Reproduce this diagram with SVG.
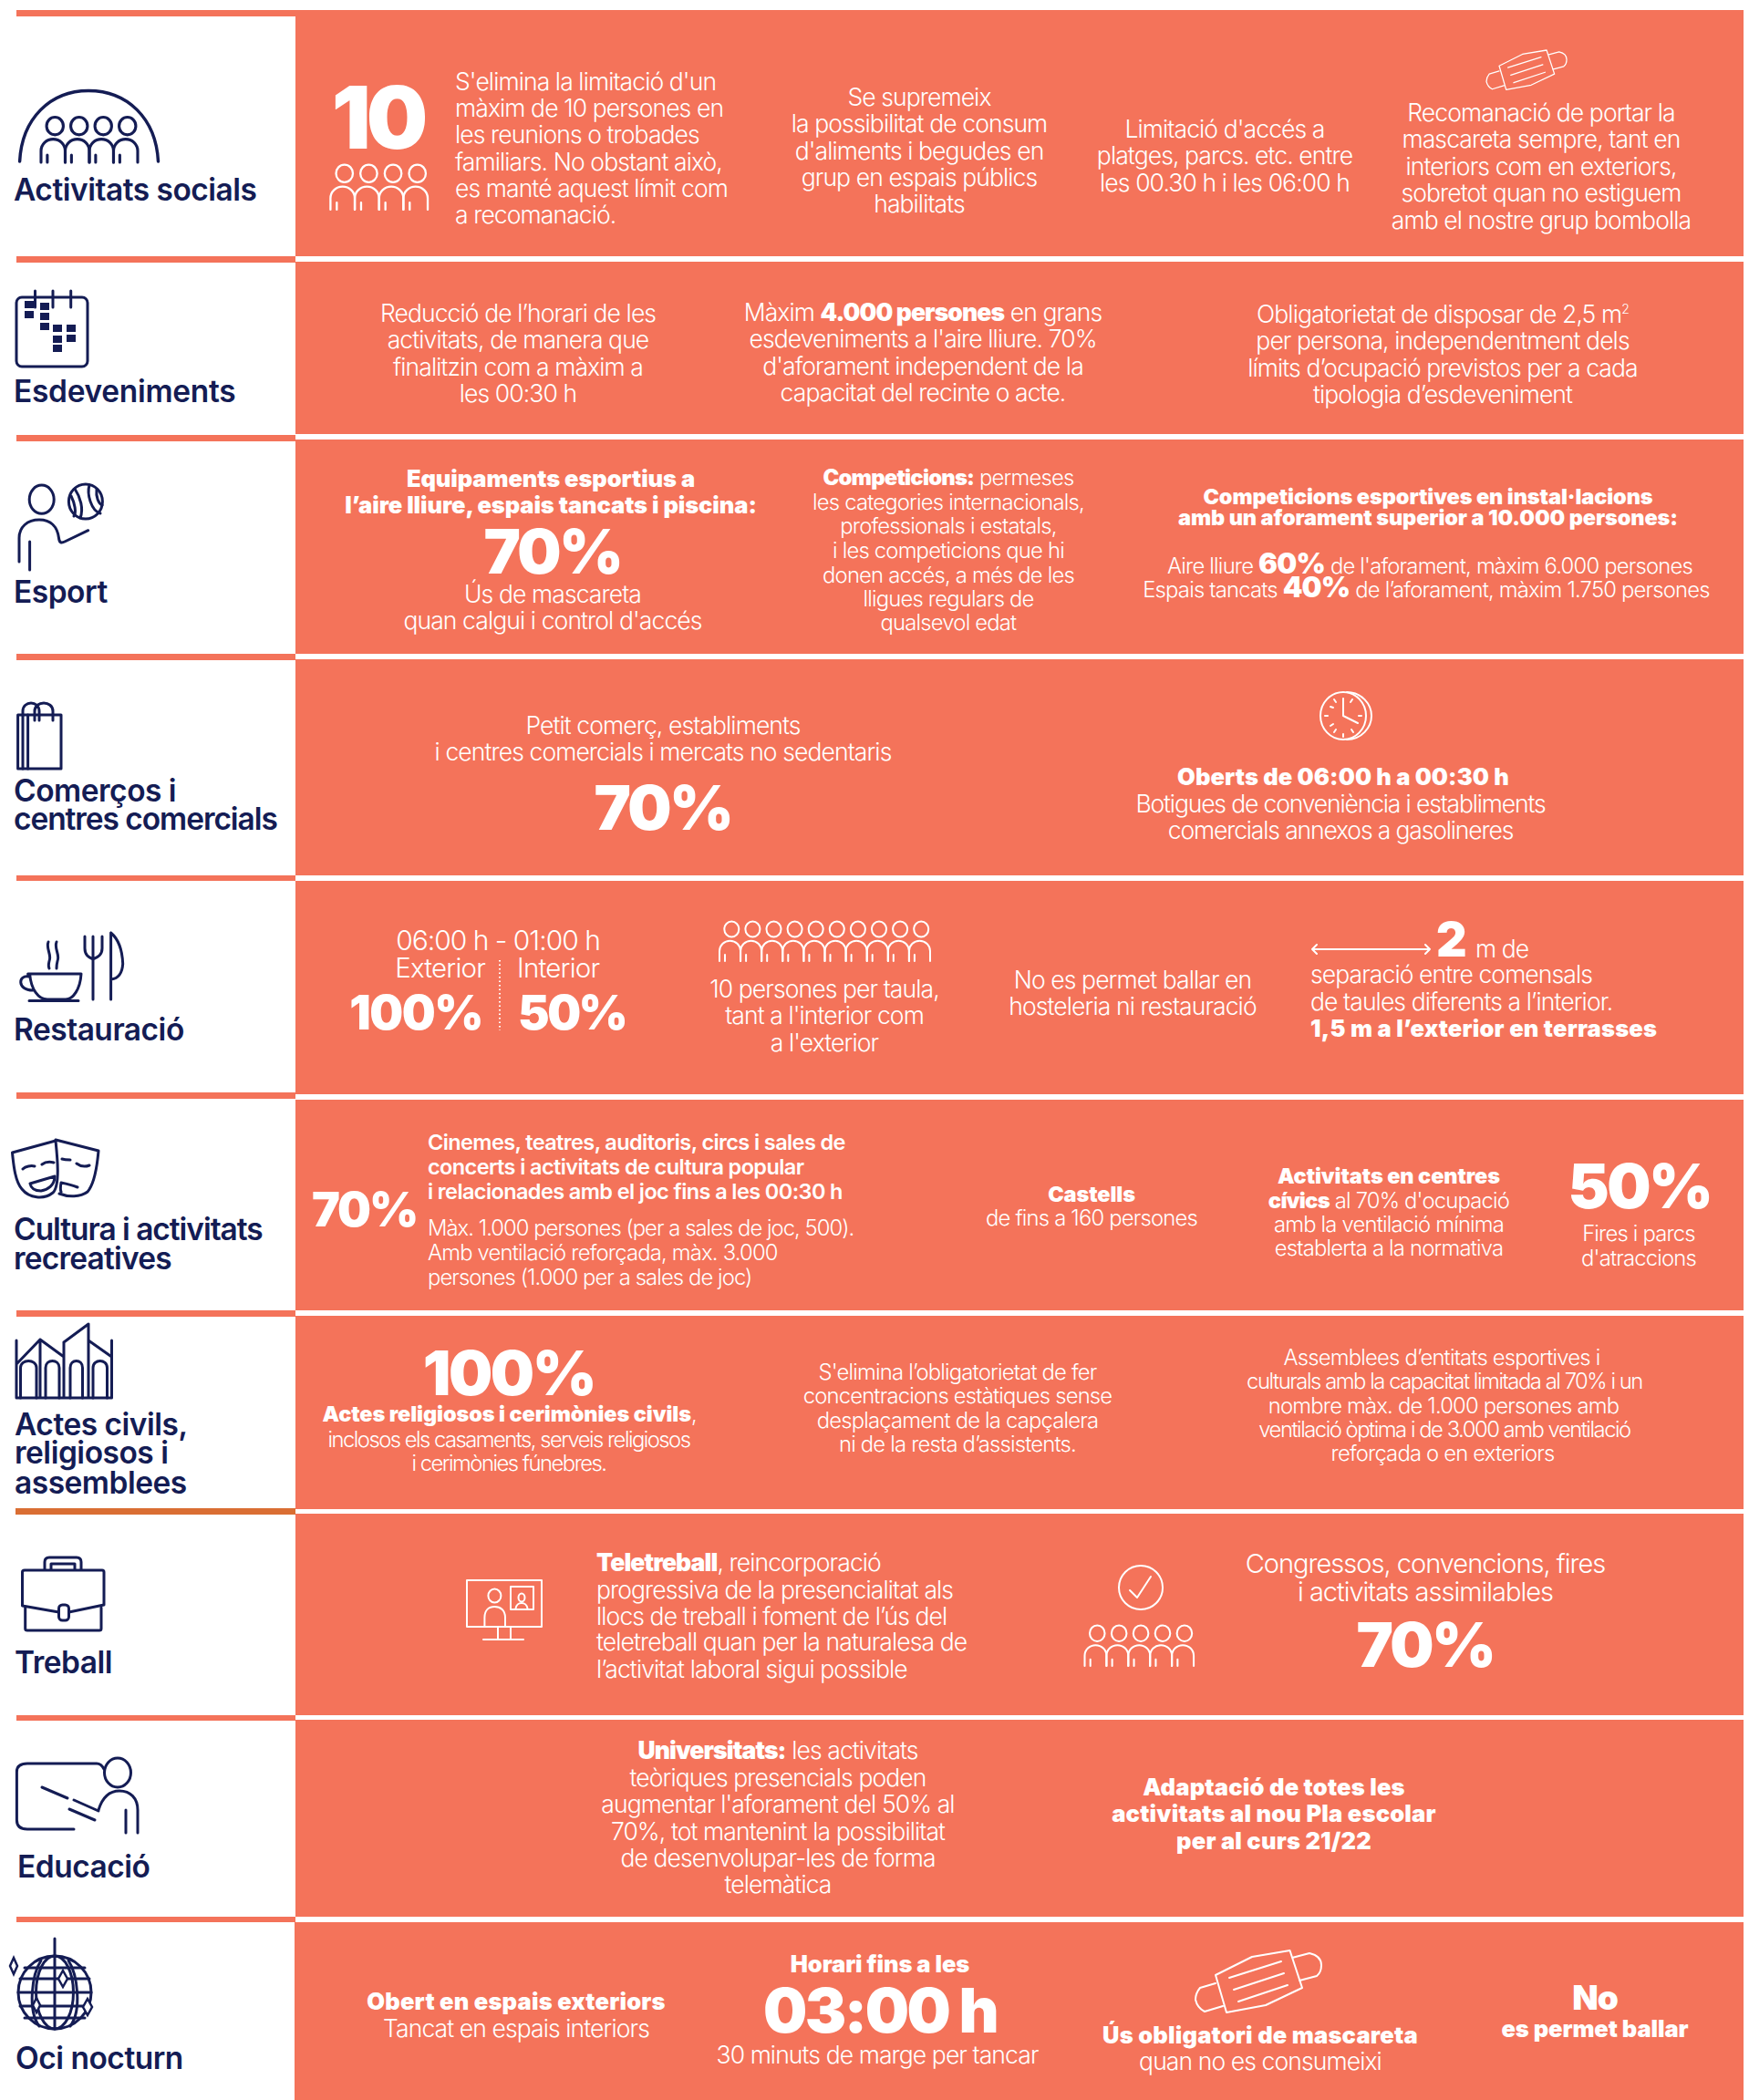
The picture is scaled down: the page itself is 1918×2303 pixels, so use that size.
<svg xmlns="http://www.w3.org/2000/svg" xmlns:xlink="http://www.w3.org/1999/xlink" width="1918" height="2303" viewBox="0 0 1918 2303">
<style>
text{font-family:"Inter","Liberation Sans",sans-serif;fill:#fff}
.t{font-size:26.500px;font-weight:300;letter-spacing:-.9px}
.s{font-size:23.800px;font-weight:300;letter-spacing:-.8px}
.b{font-size:25.500px;font-weight:900;letter-spacing:-.1px}
.b2{font-size:25.500px;font-weight:900;letter-spacing:.2px}
.bs{font-size:23.500px;font-weight:900;letter-spacing:-.1px}
.sb{font-size:23.500px;font-weight:600;letter-spacing:-.6px}
.h{font-weight:900;letter-spacing:-2.500px}
.x{font-weight:900}
.m{text-anchor:middle}
.e{text-anchor:end}
.l{font-size:33.500px;font-weight:600;letter-spacing:-.5px;fill:#141c54;transform:translateY(1px)}
.t,.s,.b,.b2,.bs,.sb{transform:translateY(.5px)}
.n{fill:none;stroke:#141c54;stroke-width:3;stroke-linecap:round;stroke-linejoin:round}
.w{fill:none;stroke:#fff;stroke-width:2;stroke-linecap:round;stroke-linejoin:round}
.c{fill:#f4735a}
</style>
<defs>
<g id="p"><ellipse cx="13.300" cy="9" rx="8" ry="8.500"/><path d="M0 44V33A11.550 11.300 0 0 1 23.100 33V44M6 44V37"/></g>
<g id="mask"><path d="M22 27L62 7L103.500 0L117 41L77 60L34 68ZM106 8L125 3Q138 6 138 16Q138 24 133 28L114 33M22 36L5 41Q0 47 0 54Q2 63 10 67L30 61M37 30L94 12M42 43L97 25M47 56L101 38"/></g>
</defs>
<rect width="1918" height="2303" fill="#fff"/>

<g id="bands">
<rect class="c" x="18" y="11" width="306" height="7"/>
<rect class="c" x="324" y="11" width="1588" height="270"/>
<rect class="c" x="18" y="281" width="306" height="7"/>
<rect class="c" x="324" y="287" width="1588" height="189"/>
<rect class="c" x="18" y="477" width="306" height="7"/>
<rect class="c" x="324" y="482" width="1588" height="235"/>
<rect class="c" x="18" y="717" width="306" height="7"/>
<rect class="c" x="324" y="723" width="1588" height="237"/>
<rect class="c" x="18" y="960" width="306" height="6"/>
<rect class="c" x="324" y="966" width="1588" height="234"/>
<rect class="c" x="18" y="1198" width="306" height="7"/>
<rect class="c" x="324" y="1206" width="1588" height="231"/>
<rect class="c" x="18" y="1437" width="306" height="7"/>
<rect class="c" x="324" y="1443" width="1588" height="212"/>
<rect x="17" y="1654" width="307" height="7" fill="#da6e33"/>
<rect class="c" x="324" y="1660" width="1588" height="221"/>
<rect class="c" x="18" y="1881" width="306" height="6"/>
<rect class="c" x="324" y="1886" width="1588" height="216"/>
<rect class="c" x="18" y="2102" width="306" height="6"/>
<rect class="c" x="323" y="2108" width="1589" height="195"/>
</g>

<g id="activitats-socials">
<g class="n"><path stroke-width="3.500" d="M21.600 177C24 130 55 99.500 97 99.500C140 99.500 171 130 173.500 177"/>
<g transform="translate(45 128) scale(1.147 1.136)" stroke-width="2.700"><use xlink:href="#p"/><use xlink:href="#p" x="23.100"/><use xlink:href="#p" x="46.200"/><use xlink:href="#p" x="69.300"/></g></g>
<text class="l" x="15" y="219">Activitats socials</text>
<text class="h m" x="414" y="163" font-size="95" style="letter-spacing:-5px">10</text>
<g class="w" transform="translate(362.400 180) scale(1.154 1.136)"><use xlink:href="#p"/><use xlink:href="#p" x="23.100"/><use xlink:href="#p" x="46.200"/><use xlink:href="#p" x="69.300"/></g>
<text class="t" x="499" y="98">S'elimina la limitació d'un</text>
<text class="t" x="499" y="127">màxim de 10 persones en</text>
<text class="t" x="499" y="156">les reunions o trobades</text>
<text class="t" x="499" y="186">familiars. No obstant això,</text>
<text class="t" x="499" y="215">es manté aquest límit com</text>
<text class="t" x="499" y="244">a recomanació.</text>
<text class="t m" x="1008" y="115">Se supremeix</text>
<text class="t m" x="1008" y="144">la possibilitat de consum</text>
<text class="t m" x="1008" y="174">d'aliments i begudes en</text>
<text class="t m" x="1008" y="203">grup en espais públics</text>
<text class="t m" x="1008" y="232">habilitats</text>
<text class="t m" x="1343" y="150">Limitació d'accés a</text>
<text class="t m" x="1343" y="179">platges, parcs. etc. entre</text>
<text class="t m" x="1343" y="209">les 00.30 h i les 06:00 h</text>
<use xlink:href="#mask" class="w" transform="translate(1630 55) scale(.638)" stroke-width="3"/>
<text class="t m" x="1690" y="132">Recomanació de portar la</text>
<text class="t m" x="1690" y="161">mascareta sempre, tant en</text>
<text class="t m" x="1690" y="191">interiors com en exteriors,</text>
<text class="t m" x="1690" y="220">sobretot quan no estiguem</text>
<text class="t m" x="1690" y="250">amb el nostre grup bombolla</text>
</g>

<g id="esdeveniments">
<g class="n"><rect x="18" y="326" width="78" height="76" rx="6"/><path d="M38.500 319V337M58 319V337M77.700 319V337"/></g>
<g fill="#141c54"><rect x="27" y="330" width="10" height="8"/><rect x="44" y="332" width="10" height="8"/><rect x="27" y="341" width="10" height="8"/><rect x="44" y="343" width="10" height="8"/><rect x="44" y="354" width="10" height="8"/><rect x="58" y="356" width="10" height="8"/><rect x="73" y="356" width="10" height="8"/><rect x="58" y="368" width="10" height="8"/><rect x="73" y="367" width="10" height="8"/><rect x="58" y="378" width="10" height="8"/></g>
<text class="l" x="15" y="440" style="letter-spacing:-.3px">Esdeveniments</text>
<text class="t m" x="568" y="352">Reducció de l’horari de les</text>
<text class="t m" x="568" y="381">activitats, de manera que</text>
<text class="t m" x="568" y="411">finalitzin com a màxim a</text>
<text class="t m" x="568" y="440">les 00:30 h</text>
<text class="t m" x="1012" y="351">Màxim <tspan class="x">4.000 persones</tspan> en grans</text>
<text class="t m" x="1012" y="380">esdeveniments a l'aire lliure. 70%</text>
<text class="t m" x="1012" y="410">d'aforament independent de la</text>
<text class="t m" x="1012" y="439">capacitat del recinte o acte.</text>
<text class="t m" x="1582" y="353">Obligatorietat de disposar de 2,5 m<tspan font-size="14" dy="-10">2</tspan></text>
<text class="t m" x="1582" y="382">per persona, independentment dels</text>
<text class="t m" x="1582" y="412">límits d’ocupació previstos per a cada</text>
<text class="t m" x="1582" y="441">tipologia d’esdeveniment</text>
</g>

<g id="esport">
<g class="n"><ellipse cx="45.700" cy="547.700" rx="13.500" ry="15.600"/><ellipse cx="93.900" cy="550" rx="18.500" ry="19"/><path d="M82 536C88 545 92 558 88 568M98 532C95 542 100 560 110 563M78 544C82 552 84 562 81 566M106 537C105 545 108 552 112 554"/><path d="M21 616V590C21 578 30 570 43 570C56 570 63 578 64.500 590C65 595 67 596 71 594L96.700 581.700M32.600 594V625"/></g>
<text class="l" x="15" y="660">Esport</text>
<text class="b m" x="604" y="533">Equipaments esportius a</text>
<text class="b m" x="604" y="562">l’aire lliure, espais tancats i piscina:</text>
<text class="h m" x="606" y="629" font-size="68">70%</text>
<text class="t m" x="606" y="660">Ús de mascareta</text>
<text class="t m" x="606" y="689">quan calgui i control d'accés</text>
<text class="s m" x="1040" y="531"><tspan class="x">Competicions:</tspan> permeses</text>
<text class="s m" x="1040" y="558">les categories internacionals,</text>
<text class="s m" x="1040" y="584">professionals i estatals,</text>
<text class="s m" x="1040" y="611">i les competicions que hi</text>
<text class="s m" x="1040" y="638">donen accés, a més de les</text>
<text class="s m" x="1040" y="664">lligues regulars de</text>
<text class="s m" x="1040" y="690">qualsevol edat</text>
<text class="bs m" x="1566" y="552">Competicions esportives en instal·lacions</text>
<text class="bs m" x="1566" y="575">amb un aforament superior a 10.000 persones:</text>
<text class="s m" x="1568" y="628">Aire lliure <tspan font-size="31" class="x">60%</tspan> de l'aforament, màxim 6.000 persones</text>
<text class="s m" x="1564" y="654">Espais tancats <tspan font-size="31" class="x">40%</tspan> de l’aforament, màxim 1.750 persones</text>
</g>

<g id="comercos">
<g class="n" stroke-width="2.800"><rect x="19.600" y="784" width="47.400" height="59"/><path d="M30.600 784V843M25 784V843" /><path d="M25 784V780C25 768 43 768 43 780V790M38 790V780C38 768 58 768 58 780V790"/></g>
<text class="l" x="15" y="878">Comerços i</text>
<text class="l" x="15" y="909" style="letter-spacing:-1.070px">centres comercials</text>
<text class="t m" x="727" y="804">Petit comerç, establiments</text>
<text class="t m" x="727" y="833">i centres comercials i mercats no sedentaris</text>
<text class="h m" x="727" y="910" font-size="68">70%</text>
<g class="w"><ellipse cx="1473" cy="785" rx="25" ry="26"/><path d="M1477 759C1493 759 1504 772 1504 785C1504 798 1493 811 1477 811"/><path d="M1473 766V785L1489 793M1473 805V808M1453 785H1456M1490 785H1493M1463 767L1465 770M1483 767L1481 770M1459 775L1462 776M1459 796L1462 794M1463 803L1465 800M1484 803L1482 800"/></g>
<text class="b m" x="1473" y="860" style="letter-spacing:.1px">Oberts de 06:00 h a 00:30 h</text>
<text class="t m" x="1470" y="890" style="letter-spacing:-1.150px">Botigues de conveniència i establiments</text>
<text class="t m" x="1470" y="919" style="letter-spacing:-1.150px">comercials annexos a gasolineres</text>
</g>

<g id="restauracio">
<g class="n" stroke-width="2.800"><path d="M30.600 1068H89M32.600 1068C34 1085 42 1096 52 1096H72C80 1096 88 1085 89 1068M32 1097.500H86M32 1071C20 1068 18 1086 36 1086"/><path d="M53 1033C50 1040 57 1047 54 1054C53 1058 53 1060 54 1062M62 1033C59 1040 66 1047 63 1054C62 1058 62 1060 62 1062"/><path d="M93 1027V1040C93 1048 98 1050 102 1052C106 1050 112 1048 112 1040V1027M102 1027V1096M121.600 1023V1096M121.600 1023C130 1030 134 1040 134.700 1057C134 1068 130 1073 122 1074"/></g>
<text class="l" x="15" y="1140">Restauració</text>
<text class="m" x="546" y="1042" font-size="30" font-weight="300" letter-spacing="-1">06:00 h - 01:00 h</text>
<text class="e" x="532" y="1072" font-size="29.500" font-weight="300" letter-spacing="-.8">Exterior</text>
<text x="567" y="1072" font-size="29.500" font-weight="300" letter-spacing="-.8">Interior</text>
<path d="M548 1053V1130" stroke="#fff" stroke-width="2" stroke-dasharray="1.500 3" fill="none"/>
<text class="h e" x="529" y="1129" font-size="52" style="letter-spacing:-1.500px">100%</text>
<text class="h" x="568" y="1129" font-size="52">50%</text>
<g class="w" stroke-width="2.400" transform="translate(789 1010)"><use xlink:href="#p"/><use xlink:href="#p" x="23.100"/><use xlink:href="#p" x="46.200"/><use xlink:href="#p" x="69.300"/><use xlink:href="#p" x="92.400"/><use xlink:href="#p" x="115.500"/><use xlink:href="#p" x="138.600"/><use xlink:href="#p" x="161.700"/><use xlink:href="#p" x="184.800"/><use xlink:href="#p" x="207.900"/></g>
<text class="t m" x="904" y="1093">10 persones per taula,</text>
<text class="t m" x="904" y="1122">tant a l'interior com</text>
<text class="t m" x="904" y="1152">a l'exterior</text>
<text class="t m" x="1242" y="1083">No es permet ballar en</text>
<text class="t m" x="1242" y="1112">hosteleria ni restauració</text>
<path class="w" d="M1439 1041H1568M1444 1036L1439 1041L1444 1046M1563 1036L1568 1041L1563 1046"/>
<text class="h" x="1575" y="1049" font-size="52">2</text>
<text class="t" x="1618" y="1049">m de</text>
<text class="t" x="1437" y="1077">separació entre comensals</text>
<text class="t" x="1437" y="1107">de taules diferents a l’interior.</text>
<text class="b2" x="1437" y="1136">1,5 m a l’exterior en terrasses</text>
</g>

<g id="cultura">
<g class="n" stroke-width="2.800"><path d="M13.500 1264L61 1251C63 1270 66 1300 58 1308C48 1316 32 1314 24 1304C17 1296 15 1280 13.500 1264Z"/><path d="M61 1250L108 1262C106 1285 102 1300 96 1307C88 1313 75 1313 65 1309"/><path d="M25 1282C28 1279 34 1278 38 1279M46 1277C50 1274 55 1274 59 1275M68 1271C71 1272 74 1272 77 1272M84 1276C88 1279 93 1280 98 1278M33 1298L60 1290C60 1300 52 1305 45 1306C38 1306 34 1303 33 1298ZM67 1297C72 1298 80 1300 85 1302M67 1297C66 1303 66 1305 67 1307"/></g>
<text class="l" x="15" y="1359" style="letter-spacing:-1.050px">Cultura i activitats</text>
<text class="l" x="15" y="1391" style="letter-spacing:-.8px">recreatives</text>
<text class="h" x="342" y="1345" font-size="52" style="letter-spacing:-2px">70%</text>
<text class="sb" x="469" y="1260">Cinemes, teatres, auditoris, circs i sales de</text>
<text class="sb" x="469" y="1287">concerts i activitats de cultura popular</text>
<text class="sb" x="469" y="1314">i relacionades amb el joc fins a les 00:30 h</text>
<text class="s" x="469" y="1354" style="letter-spacing:-.96px">Màx. 1.000 persones (per a sales de joc, 500).</text>
<text class="s" x="469" y="1381">Amb ventilació reforçada, màx. 3.000</text>
<text class="s" x="469" y="1408" style="letter-spacing:-.9px">persones (1.000 per a sales de joc)</text>
<text class="bs m" x="1197" y="1317">Castells</text>
<text class="s m" x="1197" y="1343">de fins a 160 persones</text>
<text class="bs m" x="1523" y="1297">Activitats en centres</text>
<text class="s m" x="1523" y="1324"><tspan class="x">cívics</tspan> al 70% d'ocupació</text>
<text class="s m" x="1523" y="1350">amb la ventilació mínima</text>
<text class="s m" x="1523" y="1376">establerta a la normativa</text>
<text class="h m" x="1798" y="1325" font-size="68">50%</text>
<text class="s m" x="1797" y="1360">Fires i parcs</text>
<text class="s m" x="1797" y="1387">d'atraccions</text>
</g>

<g id="actes">
<g class="n" stroke-width="2.600" stroke-linecap="butt"><path d="M18 1470V1533H122.500V1470M19 1495L44 1469V1533M44 1469L70 1488V1533M70 1472L97 1452V1533M70 1488V1472M97 1470L122.500 1488"/><path d="M22.500 1533V1500C22.500 1490 40 1490 40 1500V1533M50 1533V1500C50 1490 65 1490 65 1500V1533M77 1533V1500C77 1490 90.500 1490 90.500 1500V1533M102 1533V1500C102 1490 117.500 1490 117.500 1500V1533"/></g>
<text class="l" x="16" y="1573">Actes civils,</text>
<text class="l" x="16" y="1604">religiosos i</text>
<text class="l" x="16" y="1637">assemblees</text>
<text class="h m" x="558" y="1530" font-size="68">100%</text>
<text class="bs m" x="559" y="1558">Actes religiosos i cerimònies civils<tspan font-weight="300">,</tspan></text>
<text class="s m" x="558" y="1586" style="letter-spacing:-1.530px">inclosos els casaments, serveis religiosos</text>
<text class="s m" x="558" y="1612" style="letter-spacing:-1.500px">i cerimònies fúnebres.</text>
<text class="s m" x="1050" y="1512">S'elimina l’obligatorietat de fer</text>
<text class="s m" x="1050" y="1538">concentracions estàtiques sense</text>
<text class="s m" x="1050" y="1565">desplaçament de la capçalera</text>
<text class="s m" x="1050" y="1591">ni de la resta d’assistents.</text>
<text class="s m" x="1581" y="1496">Assemblees d’entitats esportives i</text>
<text class="s m" x="1584" y="1522" style="letter-spacing:-1.450px">culturals amb la capacitat limitada al 70% i un</text>
<text class="s m" x="1583" y="1549">nombre màx. de 1.000 persones amb</text>
<text class="s m" x="1584" y="1575" style="letter-spacing:-1.470px">ventilació òptima i de 3.000 amb ventilació</text>
<text class="s m" x="1582" y="1601">reforçada o en exteriors</text>
</g>

<g id="treball">
<g class="n"><path d="M75.500 1768L114 1760V1724Q114 1722 112 1722H27Q24.500 1722 24.500 1724V1761L64.500 1768"/><path d="M27.700 1763V1786Q27.700 1788 30 1788H109Q111 1788 111 1786V1763"/><rect x="64.500" y="1760" width="11" height="17" rx="4"/><path d="M49 1721V1713Q49 1708 54 1708H84Q89 1708 89 1713V1721M56 1721V1715H82V1721"/></g>
<text class="l" x="16" y="1834">Treball</text>
<g class="w"><rect x="512" y="1733" width="82" height="51"/><path d="M546 1784V1798M560 1784V1798M530 1798H574"/><ellipse cx="542.400" cy="1750" rx="7" ry="7.500"/><path d="M531.400 1784V1774C531.400 1766 536 1762 542.500 1762C549 1762 554 1766 554 1774V1784"/><rect x="560" y="1740" width="25" height="25"/><ellipse cx="572" cy="1752" rx="3.500" ry="4.500"/><path d="M565.500 1764C566 1760 569 1758 572 1758C575 1758 578 1760 578.500 1764"/></g>
<text class="t" x="654" y="1722"><tspan class="x">Teletreball</tspan>, reincorporació</text>
<text class="t" x="654" y="1752">progressiva de la presencialitat als</text>
<text class="t" x="654" y="1781">llocs de treball i foment de l’ús del</text>
<text class="t" x="654" y="1809">teletreball quan per la naturalesa de</text>
<text class="t" x="654" y="1839">l’activitat laboral sigui possible</text>
<g class="w" stroke-width="2.500"><circle cx="1251" cy="1741" r="24"/><path d="M1239 1744L1247 1752L1262 1729"/></g>
<g class="w" stroke-width="2.500" transform="translate(1189.500 1782) scale(1.035 1.023)"><use xlink:href="#p"/><use xlink:href="#p" x="23.100"/><use xlink:href="#p" x="46.200"/><use xlink:href="#p" x="69.300"/><use xlink:href="#p" x="92.400"/></g>
<text class="m" x="1563" y="1725" font-size="29" font-weight="300" letter-spacing="-1">Congressos, convencions, fires</text>
<text class="m" x="1563" y="1756" font-size="29" font-weight="300" letter-spacing="-1">i activitats assimilables</text>
<text class="h m" x="1563" y="1828" font-size="68">70%</text>
</g>

<g id="educacio">
<g class="n" stroke-width="3"><path d="M81 2006H30Q18.400 2006 18.400 1996V1943Q18.400 1934 30 1934H106C110 1934 112 1936 114 1940"/><ellipse cx="129" cy="1944" rx="14.500" ry="16"/><path d="M108 1985C112 1972 120 1964 131 1964C143 1964 151 1972 151 1985V2010M138 1985V2010M46 1960L74 1972M81 1974L108 1986M76 1984L104 1996"/></g>
<text class="l" x="19" y="2058">Educació</text>
<text class="t m" x="853" y="1928"><tspan class="x">Universitats:</tspan> les activitats</text>
<text class="t m" x="853" y="1958">teòriques presencials poden</text>
<text class="t m" x="853" y="1987">augmentar l'aforament del 50% al</text>
<text class="t m" x="853" y="2017">70%, tot mantenint la possibilitat</text>
<text class="t m" x="853" y="2046">de desenvolupar-les de forma</text>
<text class="t m" x="853" y="2075">telemàtica</text>
<text class="b2 m" x="1397" y="1968">Adaptació de totes les</text>
<text class="b2 m" x="1397" y="1997">activitats al nou Pla escolar</text>
<text class="b2 m" x="1397" y="2027">per al curs 21/22</text>
</g>

<g id="oci-nocturn">
<g class="n" stroke-width="2.800" stroke-linecap="butt"><circle cx="60" cy="2185" r="40"/><ellipse cx="60" cy="2185" rx="20.500" ry="40"/><path d="M60 2126V2225M20 2185H100M27 2158H93M22 2170H98M22 2200H98M27 2213H93M45 2150C35 2165 30 2205 43 2222M75 2150C85 2165 90 2205 77 2222"/></g>
<path d="M15 2147L19 2156L15 2165L11 2156Z" fill="#fff" stroke="#141c54" stroke-width="2.500"/>
<path d="M69 2161L74 2170L69 2179L64 2170Z" fill="#fff" stroke="#141c54" stroke-width="2.500"/>
<path d="M40 2191L44 2199L40 2207L36 2199Z" fill="#fff" stroke="#141c54" stroke-width="2.500"/>
<path d="M96 2192L101 2201L96 2210L91 2201Z" fill="#fff" stroke="#141c54" stroke-width="2.500"/>
<text class="l" x="17" y="2268">Oci nocturn</text>
<text class="b2 m" x="566" y="2203">Obert en espais exteriors</text>
<text class="t m" x="566" y="2233">Tancat en espais interiors</text>
<text class="b m" x="965" y="2162">Horari fins a les</text>
<text class="h m" x="965" y="2229" font-size="68">03:00 h</text>
<text class="t m" x="962" y="2262">30 minuts de marge per tancar</text>
<use xlink:href="#mask" class="w" transform="translate(1311 2139)" stroke-width="3.500"/>
<text class="b2 m" x="1382" y="2240">Ús obligatori de mascareta</text>
<text class="t m" x="1382" y="2269">quan no es consumeixi</text>
<text class="h m" x="1749" y="2204" font-size="37" style="letter-spacing:-1px">No</text>
<text class="b m" x="1749" y="2233">es permet ballar</text>
</g>
</svg>
